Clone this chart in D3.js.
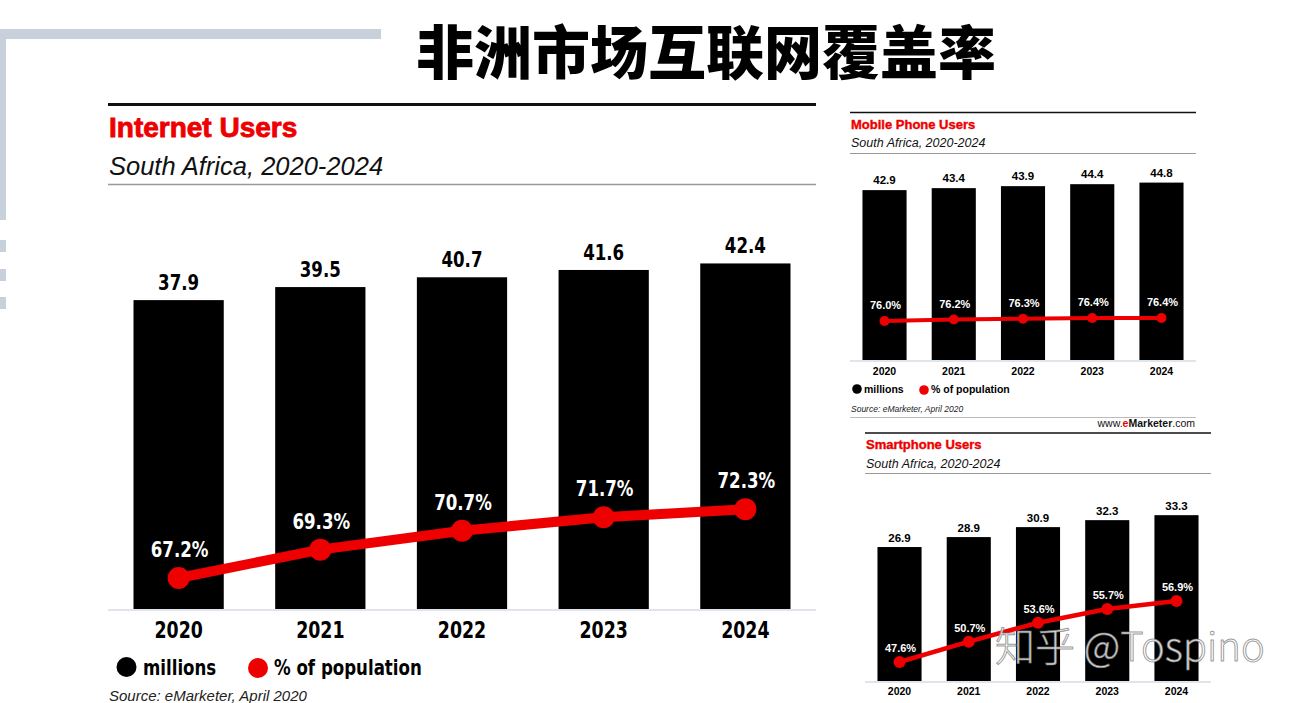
<!DOCTYPE html>
<html><head><meta charset="utf-8">
<script src="https://cdn.jsdelivr.net/npm/d3@7"></script>
<style>
html,body{margin:0;padding:0;background:#fff;}
svg{display:block;}
</style></head>
<body>
<svg id="c" width="1295" height="703"></svg>
<script>
// ---- data ----
const years = ["2020", "2021", "2022", "2023", "2024"];
const internetUsers = [37.9, 39.5, 40.7, 41.6, 42.4];
const internetPct = [67.2, 69.3, 70.7, 71.7, 72.3];
const mobileUsers = [42.9, 43.4, 43.9, 44.4, 44.8];
const mobilePct = [76.0, 76.2, 76.3, 76.4, 76.4];
const smartUsers = [26.9, 28.9, 30.9, 32.3, 33.3];
const smartPct = [47.6, 50.7, 53.6, 55.7, 56.9];
const pageTitle = "非洲市场互联网覆盖率";
const legendLabels = ["millions", "% of population"];

const svg = d3.select("#c");
const RED = "#ee0000";
const NARROW = "'Liberation Sans Narrow','Arial Narrow','DejaVu Sans Condensed',sans-serif";
const SANS = "'Liberation Sans',Arial,Helvetica,sans-serif";

// squeeze text horizontally by factor k (condensed look)
function squeeze(sel, k) {
  if (k === 1) return;
  sel.each(function () {
    const w = this.getComputedTextLength();
    d3.select(this).attr("textLength", w * k).attr("lengthAdjust", "spacingAndGlyphs");
  });
}

// decoration
const deco = svg.append("g").attr("fill", "#c8d0dc");
deco.append("rect").attr("x", 0).attr("y", 29).attr("width", 381).attr("height", 10);
deco.append("rect").attr("x", 0).attr("y", 29).attr("width", 6).attr("height", 191);
[240, 269, 297].forEach(y => deco.append("rect").attr("x", 0).attr("y", y).attr("width", 6).attr("height", 12));

// page title
svg.append("text").attr("x", 706).attr("y", 49).attr("text-anchor", "middle")
  .attr("dominant-baseline", "central")
  .attr("font-family", "'Noto Sans CJK SC',sans-serif").attr("font-weight", 900)
  .attr("font-size", 58).attr("fill", "#000").text(pageTitle);

function panel(o) {
  const g = svg.append("g");
  const x = d3.scaleBand().domain(years).range([o.x0, o.x1]).paddingInner(0.363).paddingOuter(0.18);
  const y = d3.scaleLinear().domain([0, 50]).range([o.base, o.base - 50 * o.pxU]);
  const yl = d3.scaleLinear().domain(o.pDom).range(o.pRange);

  // header lines and titles
  g.append("line").attr("x1", o.x0).attr("x2", o.x1).attr("y1", o.topY).attr("y2", o.topY)
    .attr("stroke", "#111").attr("stroke-width", o.topW);
  g.append("text").attr("x", o.x0 + 1).attr("y", o.titleY).attr("font-family", SANS)
    .attr("font-weight", 700).attr("font-size", o.titleFs).attr("fill", RED)
    .attr("stroke", RED).attr("stroke-width", o.titleFs * 0.03).text(o.title);
  g.append("text").attr("x", o.x0 + 1).attr("y", o.subY).attr("font-family", SANS)
    .attr("font-style", "italic").attr("font-size", o.subFs).attr("fill", "#111").text("South Africa, 2020-2024");
  g.append("line").attr("x1", o.x0).attr("x2", o.x1).attr("y1", o.grayY).attr("y2", o.grayY)
    .attr("stroke", "#999").attr("stroke-width", o.grayW);

  // bars
  g.selectAll("rect.bar").data(o.users).join("rect").attr("class", "bar")
    .attr("x", (d, i) => x(years[i])).attr("width", x.bandwidth())
    .attr("y", d => y(d)).attr("height", d => y(0) - y(d)).attr("fill", "#000");
  const vals = g.selectAll("text.val").data(o.users).join("text").attr("class", "val")
    .attr("x", (d, i) => x(years[i]) + x.bandwidth() / 2).attr("y", d => y(d) - o.valOff)
    .attr("text-anchor", "middle").attr("font-family", o.font).attr("font-weight", 700)
    .attr("font-size", o.valFs).attr("fill", "#000").text(d => d.toFixed(1));
  squeeze(vals, o.k);

  // baseline axis
  g.append("line").attr("x1", o.x0).attr("x2", o.x1).attr("y1", o.base + 1).attr("y2", o.base + 1)
    .attr("stroke", "#d6dce6").attr("stroke-width", 1.5);
  const ax = d3.axisBottom(x).tickSize(0).tickPadding(0);
  const axg = g.append("g").attr("transform", `translate(0,${o.yearY})`).call(ax);
  axg.select(".domain").remove();
  const yt = axg.selectAll("text").attr("font-family", o.font).attr("font-weight", 700)
    .attr("font-size", o.yearFs).attr("fill", "#000").attr("dy", 0);
  squeeze(yt, o.k);

  // line
  const cx = (i) => x(years[i]) + x.bandwidth() / 2;
  const line = d3.line().x((d, i) => cx(i)).y(d => yl(d));
  g.append("path").attr("d", line(o.pct)).attr("fill", "none").attr("stroke", RED)
    .attr("stroke-width", o.lw).attr("stroke-linejoin", "round");
  g.selectAll("circle.pt").data(o.pct).join("circle").attr("class", "pt")
    .attr("cx", (d, i) => cx(i)).attr("cy", d => yl(d)).attr("r", o.r).attr("fill", RED);
  const pl = g.selectAll("text.pct").data(o.pct).join("text").attr("class", "pct")
    .attr("x", (d, i) => cx(i) + 1).attr("y", d => yl(d) - o.pOff)
    .attr("text-anchor", "middle").attr("font-family", o.font).attr("font-weight", 700)
    .attr("font-size", o.pFs).attr("fill", "#fff").text(d => d.toFixed(1) + "%");
  squeeze(pl, o.k);

  // legend
  if (o.legY) {
    const L = o.leg;
    g.append("circle").attr("cx", L.c1).attr("cy", o.legY).attr("r", L.r).attr("fill", "#000");
    const a = g.append("text").attr("x", L.t1).attr("y", o.legY + L.dy).attr("font-family", o.font)
      .attr("font-weight", 700).attr("font-size", L.fs).attr("fill", "#000").text(legendLabels[0]);
    g.append("circle").attr("cx", L.c2).attr("cy", o.legY + 1).attr("r", L.r).attr("fill", RED);
    const b = g.append("text").attr("x", L.t2).attr("y", o.legY + L.dy).attr("font-family", o.font)
      .attr("font-weight", 700).attr("font-size", L.fs).attr("fill", "#000").text(legendLabels[1]);
    squeeze(a, o.k); squeeze(b, o.k);
  }
  if (o.srcY) {
    g.append("text").attr("x", o.x0 + 1).attr("y", o.srcY).attr("font-family", SANS)
      .attr("font-style", "italic").attr("font-size", o.srcFs).attr("fill", "#222")
      .text("Source: eMarketer, April 2020");
  }
  return g;
}

// main chart
panel({
  x0: 108, x1: 816, base: 609, pxU: 8.15, pDom: [60, 90], pRange: [675.2, 270.2],
  topY: 104.5, topW: 3, title: "Internet Users", titleY: 137, titleFs: 28,
  subY: 175, subFs: 25.5, grayY: 184.5, grayW: 1.5,
  font: NARROW, k: 0.84, valFs: 22, valOff: 10, yearY: 638, yearFs: 23,
  lw: 10, r: 11, pOff: 21, pFs: 22,
  users: internetUsers, pct: internetPct,
  legY: 667, leg: { c1: 126.5, c2: 258, t1: 143, t2: 274, r: 10, fs: 22, dy: 8 },
  srcY: 701, srcFs: 15
});

// mobile phone chart
panel({
  x0: 850, x1: 1196, base: 360, pxU: 3.96, pDom: [70, 80], pRange: [366, 291],
  topY: 112.5, topW: 1.5, title: "Mobile Phone Users", titleY: 129, titleFs: 13,
  subY: 147, subFs: 12.5, grayY: 153.5, grayW: 1,
  font: SANS, k: 1, valFs: 11.5, valOff: 6, yearY: 375, yearFs: 10.5,
  lw: 4, r: 5, pOff: 12, pFs: 11,
  users: mobileUsers, pct: mobilePct,
  legY: 389, leg: { c1: 857, c2: 924, t1: 864, t2: 931, r: 4.8, fs: 10.5, dy: 4 },
  srcY: 412, srcFs: 8.5
});
svg.append("line").attr("x1", 850).attr("x2", 1196).attr("y1", 417.5).attr("y2", 417.5)
  .attr("stroke", "#bbb").attr("stroke-width", 1);
const www = svg.append("text").attr("x", 1195).attr("y", 427).attr("text-anchor", "end")
  .attr("font-family", SANS).attr("font-size", 10.5).attr("fill", "#111");
www.append("tspan").text("www.");
www.append("tspan").attr("fill", RED).attr("font-weight", 700).text("e");
www.append("tspan").attr("font-weight", 700).text("Marketer");
www.append("tspan").text(".com");

// smartphone chart
panel({
  x0: 865, x1: 1211, base: 681, pxU: 4.98, pDom: [40, 60], pRange: [711.8, 580.8],
  topY: 433, topW: 1.5, title: "Smartphone Users", titleY: 449, titleFs: 13,
  subY: 468, subFs: 12.5, grayY: 473.5, grayW: 1,
  font: SANS, k: 1, valFs: 11.5, valOff: 5, yearY: 695, yearFs: 10.5,
  lw: 4.5, r: 6, pOff: 10, pFs: 11,
  users: smartUsers, pct: smartPct
});

// watermark
svg.append("text").attr("x", 995).attr("y", 661)
  .attr("font-family", "'Noto Sans CJK SC',sans-serif").attr("font-weight", 300)
  .attr("font-size", 40).attr("fill", "rgba(255,255,255,0.9)")
  .attr("stroke", "rgba(110,110,110,0.7)").attr("stroke-width", 1)
  .text("知乎 @Tospino");
</script>
</body></html>
